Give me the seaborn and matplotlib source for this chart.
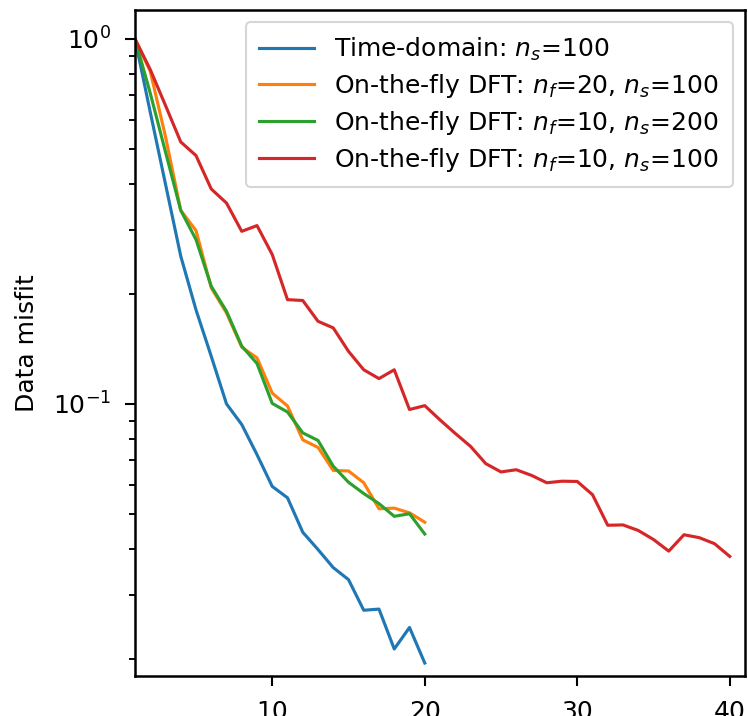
import pandas as pd
import matplotlib
matplotlib.use('Agg')
import matplotlib.pyplot as plt
import seaborn as sns

# Iterations
iters_short = list(range(1, 21))
iters_long = list(range(1, 41))

# Data misfit (normalised)
misfit_time = [1.0, 0.63, 0.40, 0.254, 0.181, 0.135, 0.100, 0.0878, 0.0726, 0.0594,
               0.0553, 0.0445, 0.0399, 0.0356, 0.0330, 0.0272, 0.0274, 0.0213, 0.0244, 0.0195]
misfit_nf20_ns100 = [1.0, 0.815, 0.54, 0.339, 0.2985, 0.208, 0.1775, 0.143, 0.1337, 0.107,
                     0.0987, 0.0797, 0.0760, 0.0657, 0.0655, 0.0608, 0.0516, 0.0518, 0.0503, 0.0474]
misfit_nf10_ns200 = [1.0, 0.71, 0.49, 0.339, 0.282, 0.210, 0.1794, 0.144, 0.1290, 0.1003,
                     0.0950, 0.0833, 0.0794, 0.0675, 0.0610, 0.0568, 0.0533, 0.0492, 0.0500, 0.0440]
misfit_nf10_ns100 = [1.0, 0.824, 0.657, 0.522, 0.479, 0.388, 0.355, 0.297, 0.308, 0.2565,
                     0.193, 0.192, 0.1684, 0.1615, 0.1393, 0.124, 0.1173, 0.124, 0.0965, 0.0989,
                     0.0904, 0.0830, 0.0765, 0.0686, 0.0651, 0.0660, 0.0637, 0.0608, 0.0614, 0.0613,
                     0.0564, 0.0465, 0.0466, 0.0450, 0.0425, 0.0395, 0.0438, 0.0430, 0.0414, 0.0382]

labels = ['Time-domain: $n_s$=100',
          'On-the-fly DFT: $n_f$=20, $n_s$=100',
          'On-the-fly DFT: $n_f$=10, $n_s$=200',
          'On-the-fly DFT: $n_f$=10, $n_s$=100']
colors = sns.color_palette('tab10', 4)

series = [(iters_short, misfit_time),
          (iters_short, misfit_nf20_ns100),
          (iters_short, misfit_nf10_ns200),
          (iters_long, misfit_nf10_ns100)]

plt.rcParams['font.size'] = 12
plt.rcParams['axes.linewidth'] = 1.2
plt.rcParams['xtick.major.size'] = 5
plt.rcParams['ytick.major.size'] = 5
plt.rcParams['xtick.minor.size'] = 2.9
plt.rcParams['ytick.minor.size'] = 2.9
plt.rcParams['xtick.major.width'] = 1.0
plt.rcParams['ytick.major.width'] = 1.0
plt.rcParams['ytick.minor.width'] = 0.9
plt.rcParams['xtick.major.pad'] = 6.5
plt.rcParams['ytick.major.pad'] = 6.5
plt.rcParams['ytick.minor.pad'] = 6.5

fig = plt.figure(figsize=(748 / 150, 716 / 150), dpi=150)
ax = fig.add_axes([135 / 748, 1 - 675.7 / 716, (745 - 135) / 748, (675.7 - 10) / 716])

for (x, y), label, color in zip(series, labels, colors):
    df = pd.DataFrame({'iteration': x, 'misfit': y})
    sns.lineplot(data=df, x='iteration', y='misfit', ax=ax, color=color, label=label)

ax.set_yscale('log')
ax.set_xlim(1, 41)
ax.set_ylim(0.018, 1.2)
ax.set_xticks([10, 20, 30, 40])
ax.set_xlabel('')
ax.set_ylabel('Data misfit', labelpad=6.5)
ax.legend(loc='upper right', labelspacing=0.35, borderpad=0.55,
          handlelength=2.2, handletextpad=0.8)

# bottom tick labels are partly cut by the frame edge, as in the reference
fig.savefig('out.png', dpi=150)
